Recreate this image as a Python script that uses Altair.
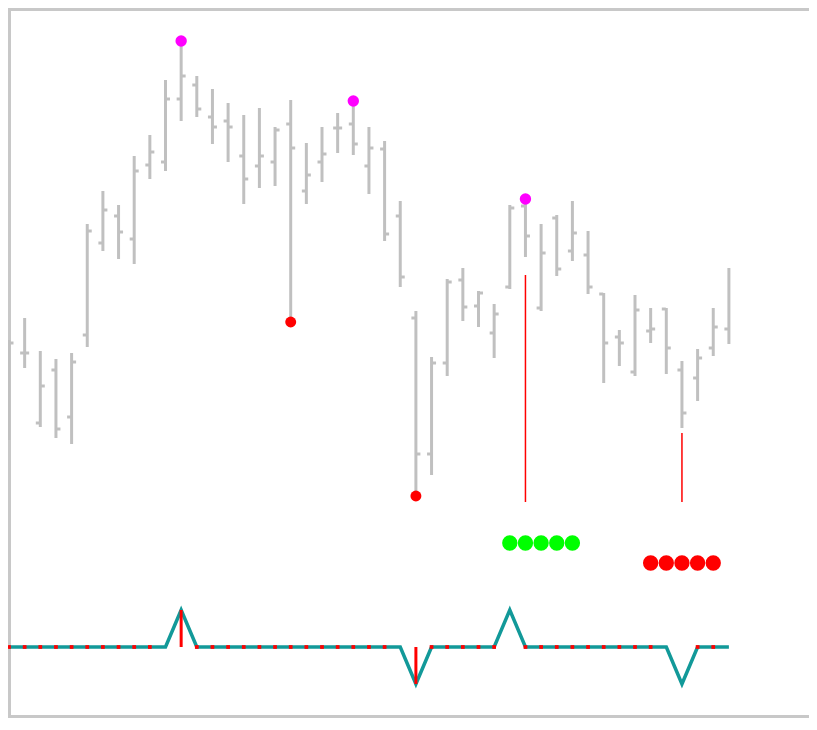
import altair as alt
import pandas as pd

# ---- price bars (values in chart price units) ----
bar_idx = list(range(47))
highs = [390, 412, 379, 371, 377, 506, 539, 525, 574, 595,
         650, 689, 654, 641, 627, 615, 622, 603, 630, 587,
         603, 617, 629, 603, 589, 529, 419, 373, 451, 462,
         439, 426, 525, 531, 506, 515, 529, 499, 437, 400,
         435, 422, 422, 369, 381, 422, 462]
lows = [290, 362, 303, 292, 286, 383, 479, 471, 466, 551,
        559, 609, 613, 586, 568, 526, 542, 544, 408, 526,
        548, 577, 575, 536, 489, 443, 234, 255, 354, 409,
        403, 372, 441, 473, 419, 454, 469, 436, 347, 364,
        354, 387, 356, 302, 329, 374, 386]
opens = [305, 377, 307, 360, 313, 395, 487, 514, 491, 565,
         568, 631, 645, 613, 609, 574, 564, 568, 606, 539,
         568, 602, 606, 564, 581, 514, 412, 276, 367, 450,
         424, 397, 443, 524, 422, 512, 479, 475, 436, 393,
         358, 399, 421, 360, 352, 382, 401]
closes = [387, 377, 344, 301, 368, 499, 520, 498, 559, 578,
          631, 654, 621, 603, 603, 551, 574, 600, 582, 555,
          576, 602, 586, 582, 496, 453, 276, 367, 448, 423,
          437, 416, 522, 494, 477, 461, 497, 443, 387, 387,
          420, 401, 382, 317, 372, 403, None]

# ---- markers ----
peak_idx = [11, 22, 33]
peak_val = [689, 629, 531]
trough_idx = [18, 26]
trough_val = [408, 234]
signal_idx = [33, 43]
signal_top = [455, 297]
signal_bottom = [228, 228]
buy_idx = [32, 33, 34, 35, 36]
buy_val = [187, 187, 187, 187, 187]
sell_idx = [41, 42, 43, 44, 45]
sell_val = [167, 167, 167, 167, 167]

# ---- lower indicator ----
osc = [0, 0, 0, 0, 0, 0, 0, 0, 0, 0,
       0, 1, 0, 0, 0, 0, 0, 0, 0, 0,
       0, 0, 0, 0, 0, 0, -1, 0, 0, 0,
       0, 0, 1, 0, 0, 0, 0, 0, 0, 0,
       0, 0, 0, -1, 0, 0, 0]
hist_idx = [11, 26]
hist_val = [1, -1]
dash_idx = [0, 1, 2, 3, 4, 5, 6, 7, 8, 9,
            12, 13, 14, 15, 16, 17, 18, 19, 20, 21, 22, 23, 24,
            27, 28, 29, 30, 31,
            33, 34, 35, 36, 37, 38, 39, 40, 41,
            44, 45]

W, H = 801, 710
PX = 15.65
XS = alt.Scale(domain=[-1 / PX, (W - 1) / PX], nice=False, zero=False)
YP = alt.Scale(domain=[730 - 8 - H, 722], nice=False, zero=False)
YI = alt.Scale(domain=[-(H - 639) / 37, 639 / 37], nice=False, zero=False)

GRAY = "#c0c0c0"
RED = "#ff0000"

df = pd.DataFrame({"i": bar_idx, "high": highs, "low": lows,
                   "open": opens, "close": closes})
ind = pd.DataFrame({"i": bar_idx, "osc": osc})

xq = alt.X("i:Q", scale=XS, axis=None)

bars = alt.Chart(df).mark_rule(color=GRAY, strokeWidth=3).encode(
    x=xq, y=alt.Y("low:Q", scale=YP, axis=None), y2="high:Q")
open_t = alt.Chart(df).mark_tick(orient="horizontal", color=GRAY, size=4,
                                 thickness=3, xOffset=-2.5, opacity=1).encode(
    x=xq, y=alt.Y("open:Q", scale=YP, axis=None))
close_t = alt.Chart(df).transform_filter("isValid(datum.close)").mark_tick(
    orient="horizontal", color=GRAY, size=4, thickness=3, xOffset=2.5,
    opacity=1).encode(x=xq, y=alt.Y("close:Q", scale=YP, axis=None))

sig = alt.Chart(pd.DataFrame({"i": signal_idx, "t": signal_top,
                              "b": signal_bottom})).mark_rule(
    color=RED, strokeWidth=1.5).encode(
    x=xq, y=alt.Y("b:Q", scale=YP, axis=None), y2="t:Q")

peaks = alt.Chart(pd.DataFrame({"i": peak_idx, "v": peak_val})).mark_circle(
    color="#ff00ff", size=130, opacity=1).encode(
    x=xq, y=alt.Y("v:Q", scale=YP, axis=None))
troughs = alt.Chart(pd.DataFrame({"i": trough_idx, "v": trough_val})).mark_circle(
    color=RED, size=120, opacity=1).encode(
    x=xq, y=alt.Y("v:Q", scale=YP, axis=None))
buys = alt.Chart(pd.DataFrame({"i": buy_idx, "v": buy_val})).mark_circle(
    color="#00ff00", size=235, opacity=1).encode(
    x=xq, y=alt.Y("v:Q", scale=YP, axis=None))
sells = alt.Chart(pd.DataFrame({"i": sell_idx, "v": sell_val})).mark_circle(
    color=RED, size=235, opacity=1).encode(
    x=xq, y=alt.Y("v:Q", scale=YP, axis=None))

osc_line = alt.Chart(ind).mark_line(color="#129999", strokeWidth=3.5).encode(
    x=xq, y=alt.Y("osc:Q", scale=YI, axis=None))
hist = alt.Chart(pd.DataFrame({"i": hist_idx, "v": hist_val, "z": [0, 0]})).mark_rule(
    color=RED, strokeWidth=3).encode(
    x=xq, y=alt.Y("z:Q", scale=YI, axis=None), y2="v:Q")
dashes = alt.Chart(pd.DataFrame({"i": dash_idx, "z": [0] * len(dash_idx)})).mark_square(
    color=RED, size=14, opacity=1).encode(
    x=xq, y=alt.Y("z:Q", scale=YI, axis=None))

one = pd.DataFrame({"a": [0]})
BC = "#c8c8c8"
b_left = alt.Chart(one).mark_rule(color=BC, strokeWidth=3).encode(
    x=alt.value(1.5), y=alt.value(0), y2=alt.value(H))
b_top = alt.Chart(one).mark_rule(color=BC, strokeWidth=3).encode(
    x=alt.value(0), x2=alt.value(W + 10), y=alt.value(1.5))
b_bottom = alt.Chart(one).mark_rule(color=BC, strokeWidth=3).encode(
    x=alt.value(0), x2=alt.value(W + 10), y=alt.value(H - 1.5))

chart = alt.layer(
    b_left, b_top, b_bottom,
    bars, open_t, close_t, sig, peaks, troughs, buys, sells,
    osc_line, hist, dashes,
).resolve_scale(y="independent").properties(
    width=W, height=H, padding=0, autosize="none", background="white"
).configure_view(stroke="transparent", strokeWidth=0)

chart.save("out.html", embed_options={"renderer": "svg", "actions": False})
